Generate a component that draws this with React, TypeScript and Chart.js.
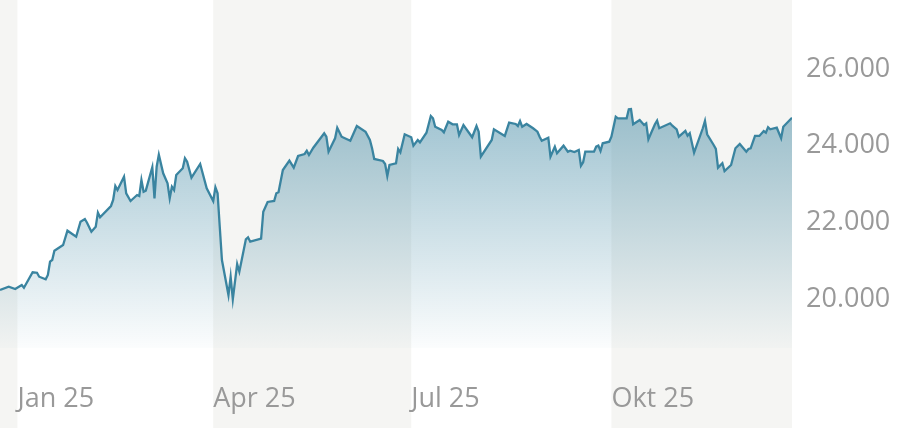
import React, { useEffect, useRef } from "react";
import { Chart, registerables } from "chart.js";

Chart.register(...registerables);

// Days counted from 1 Jan 2025 (negative = Dec 2024)
const days = [
  -8, -4, -1, 2, 3, 7, 9, 10, 13, 14, 15, 16, 17, 21, 23, 27, 29, 31, 32, 34,
  36, 37, 38, 43, 44, 45, 46, 49, 50, 52, 55, 56, 57, 58, 59, 62, 63, 64, 65, 67,
  69, 70, 71, 72, 73, 76, 77, 78, 80, 84, 87, 90, 91, 92, 93, 94, 97, 98, 99, 101,
  102, 105, 106, 107, 112, 113, 115, 118, 119, 120, 122, 125, 127, 129, 132, 133, 134, 136, 141, 142,
  143, 146, 147, 149, 150, 153, 156, 160, 162, 163, 164, 168, 169, 170, 171, 174, 175, 176, 178, 181,
  182, 184, 185, 188, 190, 191, 192, 195, 196, 198, 200, 202, 203, 205, 209, 211, 212, 213, 218, 219,
  224, 226, 229, 230, 231, 232, 234, 237, 239, 240, 241, 244, 245, 247, 248, 251, 253, 254, 256, 258,
  259, 260, 261, 265, 266, 267, 268, 269, 272, 273, 275, 276, 280, 281, 282, 283, 286, 288, 289, 290,
  293, 294, 295, 300, 301, 303, 304, 307, 308, 309, 311, 315, 316, 317, 320, 321, 322, 324, 325, 328,
  330, 332, 335, 336, 337, 339, 341, 343, 344, 345, 346, 349, 351, 352, 356,
];

const values = [
  20235, 20321, 20261, 20365, 20295, 20697, 20686, 20582, 20514, 20626, 20973, 21018, 21260, 21409, 21782, 21625, 22017, 22087, 21991, 21756,
  21886, 22252, 22132, 22426, 22583, 22948, 22844, 23191, 22758, 22557, 22713, 22687, 23105, 22799, 22826, 23436, 22627, 23452, 23766, 23279,
  23019, 22627, 22930, 22844, 23235, 23410, 23671, 23582, 23165, 23522, 22888, 22557, 22914, 22758, 21886, 21018, 20104, 20582, 19992, 20913,
  20712, 21558, 21610, 21495, 21573, 22278, 22531, 22557, 22758, 22784, 23366, 23608, 23426, 23731, 23783, 23869, 23757, 23947, 24323, 24234,
  23843, 24193, 24469, 24234, 24208, 24130, 24514, 24365, 24148, 23932, 23653, 23600, 23522, 23209, 23496, 23540, 23914, 23827, 24297, 24219,
  24000, 24148, 24088, 24339, 24774, 24715, 24495, 24409, 24349, 24626, 24558, 24558, 24279, 24540, 24219, 24514, 24365, 23713, 24148, 24427,
  24253, 24600, 24566, 24514, 24644, 24495, 24566, 24454, 24365, 24234, 24130, 24208, 23713, 23973, 23801, 24000, 23843, 23869, 23835, 23887,
  23478, 23567, 23843, 23843, 23973, 24000, 23861, 24062, 24104, 24234, 24756, 24714, 24714, 24949, 24957, 24558, 24670, 24540, 24584, 24167,
  24558, 24652, 24454, 24584, 24521, 24427, 24234, 24383, 24260, 24323, 23817, 24454, 24644, 24297, 24018, 23914, 23426, 23540, 23339, 23496,
  23932, 24044, 23843, 23914, 23932, 24253, 24253, 24383, 24339, 24480, 24427, 24469, 24193, 24495, 24730,
];

const quarterStarts = [0, 90, 181, 273];
const quarterLabels = ["Jan 25", "Apr 25", "Jul 25", "Okt 25"];
const yTicks = [20000, 22000, 24000, 26000];

const X_MIN = -8;
const X_MAX = 356;
const Y_MIN = 18722;
const Y_MAX = 27800;

const fmt = (v: number) => String(Math.round(v)).replace(/\B(?=(\d{3})+(?!\d))/g, ".");

const noPad = (s: any) => {
  s.paddingTop = 0;
  s.paddingBottom = 0;
  s.paddingLeft = 0;
  s.paddingRight = 0;
};

const bandPlugin = {
  id: "bands",
  beforeDraw(chart: any) {
    const { ctx, scales } = chart;
    const x = scales.x;
    const edges = [X_MIN, ...quarterStarts, X_MAX];
    ctx.save();
    ctx.fillStyle = "#f5f5f3";
    for (let i = 0; i < edges.length - 1; i++) {
      if (i % 2 === 0) {
        const a = x.getPixelForValue(edges[i]);
        const b = x.getPixelForValue(edges[i + 1]);
        ctx.fillRect(a, 0, b - a, chart.height);
      }
    }
    ctx.restore();
  },
};

const tickFont = { family: "'Open Sans'", size: 27, weight: 400 as any };

export default function App() {
  const ref = useRef<HTMLCanvasElement>(null);
  useEffect(() => {
    document.body.style.margin = "0";
    const canvas = ref.current!;
    const chart = new Chart(canvas, {
      type: "line",
      data: {
        datasets: [
          {
            data: days.map((d, i) => ({ x: d, y: values[i] })),
            borderColor: "#3a84a0",
            borderWidth: 2.3,
            pointRadius: 0,
            tension: 0,
            fill: "start",
            backgroundColor: (c: any) => {
              const area = c.chart.chartArea;
              if (!area) return "rgba(58,132,160,0.3)";
              const g = c.chart.ctx.createLinearGradient(0, area.top, 0, area.bottom);
              g.addColorStop(0, "rgba(58,132,160,0.7)");
              g.addColorStop(1, "rgba(58,132,160,0.02)");
              return g;
            },
          },
        ],
      },
      options: {
        animation: false,
        responsive: false,
        layout: { padding: 0 },
        plugins: { legend: { display: false }, tooltip: { enabled: false } },
        scales: {
          x: {
            type: "linear",
            min: X_MIN,
            max: X_MAX,
            grid: { display: false, drawTicks: false },
            border: { display: false },
            afterBuildTicks: (s: any) => {
              s.ticks = quarterStarts.map((v) => ({ value: v }));
            },
            afterFit: (s: any) => {
              s.height = 80;
              noPad(s);
            },
            ticks: {
              align: "start",
              maxRotation: 0,
              autoSkip: false,
              padding: 35,
              color: "#999999",
              font: tickFont,
              callback: (v: any) => {
                const i = quarterStarts.indexOf(Number(v));
                return i >= 0 ? quarterLabels[i] : "";
              },
            },
          },
          y: {
            position: "right",
            min: Y_MIN,
            max: Y_MAX,
            grid: { display: false, drawTicks: false },
            border: { display: false },
            afterBuildTicks: (s: any) => {
              s.ticks = yTicks.map((v) => ({ value: v }));
            },
            afterFit: (s: any) => {
              s.width = 110;
              noPad(s);
            },
            ticks: {
              padding: 14,
              color: "#999999",
              font: tickFont,
              callback: (v: any) => fmt(Number(v)),
            },
          },
        },
      },
      plugins: [bandPlugin],
    });
    return () => chart.destroy();
  }, []);
  return <canvas ref={ref} width={902} height={428} style={{ display: "block" }} />;
}
